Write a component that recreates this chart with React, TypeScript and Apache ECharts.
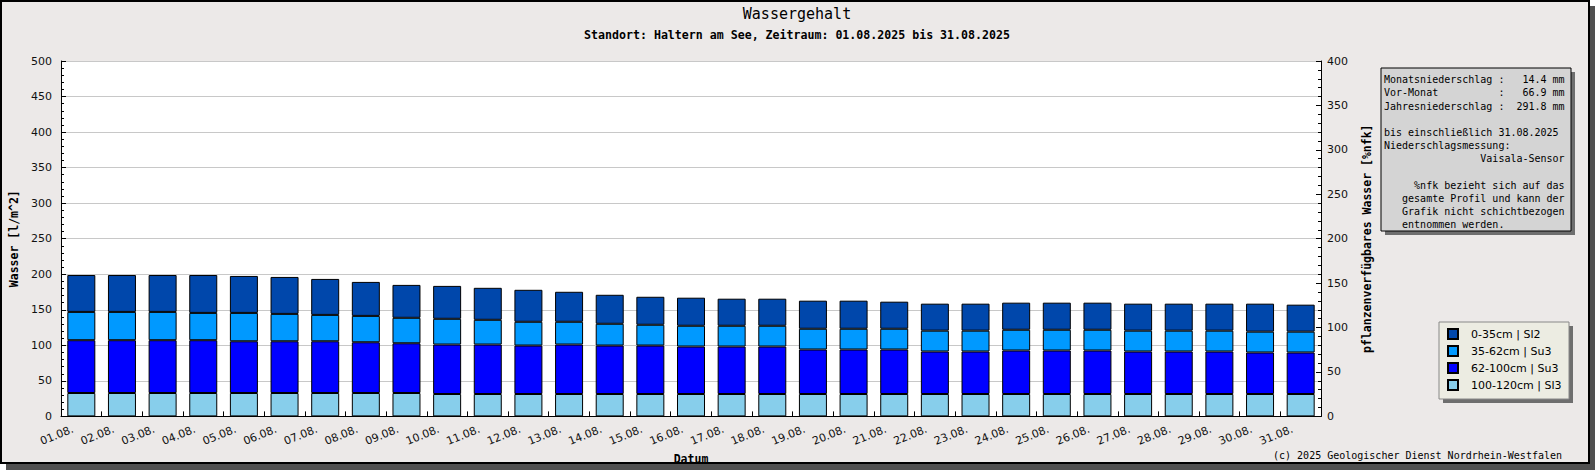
import React, { useEffect, useRef } from "react";
import * as echarts from "echarts";

const categories = [
  "01.08.", "02.08.", "03.08.", "04.08.", "05.08.", "06.08.", "07.08.", "08.08.",
  "09.08.", "10.08.", "11.08.", "12.08.", "13.08.", "14.08.", "15.08.", "16.08.",
  "17.08.", "18.08.", "19.08.", "20.08.", "21.08.", "22.08.", "23.08.", "24.08.",
  "25.08.", "26.08.", "27.08.", "28.08.", "29.08.", "30.08.", "31.08.",
];

// 0-35cm | Sl2 (top layer)
const layer0to35 = [
  51.9, 51.9, 51.9, 53.3, 52.0, 52.0, 50.6, 47.8, 46.3, 46.3, 45.0, 45.0, 42.2, 40.8, 39.4, 39.5,
  38.1, 38.1, 39.5, 39.5, 38.1, 38.0, 38.0, 38.1, 38.1, 38.1, 38.0, 38.0, 38.0, 39.4, 38.0,
];
// 35-62cm | Su3
const layer35to62 = [
  39.8, 39.8, 39.8, 38.4, 39.9, 38.5, 37.1, 37.1, 35.8, 36.2, 34.8, 33.4, 32.0, 30.6, 29.2, 29.2,
  29.2, 29.2, 29.2, 29.2, 29.2, 29.3, 29.3, 29.2, 29.2, 29.2, 29.3, 29.3, 29.3, 29.3, 29.3,
];
// 62-100cm | Su3
const layer62to100 = [
  74.3, 74.3, 74.3, 74.3, 72.8, 72.8, 72.8, 71.4, 70.0, 69.6, 69.6, 68.2, 69.6, 68.2, 68.2, 66.8,
  66.8, 66.8, 62.6, 62.6, 62.6, 59.8, 59.8, 61.2, 61.2, 61.2, 59.8, 59.8, 59.8, 58.4, 58.4,
];
// 100-120cm | Sl3 (bottom layer)
const layer100to120 = [
  32.9, 32.9, 32.9, 32.9, 32.9, 32.9, 32.9, 32.9, 32.9, 31.5, 31.5, 31.5, 31.5, 31.5, 31.5, 31.5,
  31.5, 31.5, 31.5, 31.5, 31.5, 31.5, 31.5, 31.5, 31.5, 31.5, 31.5, 31.5, 31.5, 31.5, 31.5,
];

const seriesNames = ["0-35cm | Sl2", "35-62cm | Su3", "62-100cm | Su3", "100-120cm | Sl3"];
const seriesColors = ["#0047ab", "#0099ff", "#0000ff", "#87ceeb"];

const titleText = "Wassergehalt";
const subtitleText = "Standort: Haltern am See, Zeitraum: 01.08.2025 bis 31.08.2025";
const leftAxisName = "Wasser [l/m^2]";
const rightAxisName = "pflanzenverfügbares Wasser [%nfk]";
const xAxisName = "Datum";
const copyrightText = "(c) 2025 Geologischer Dienst Nordrhein-Westfalen";
const infoLines = [
  "Monatsniederschlag :   14.4 mm",
  "Vor-Monat          :   66.9 mm",
  "Jahresniederschlag :  291.8 mm",
  "",
  "bis einschließlich 31.08.2025",
  "Niederschlagsmessung:",
  "                Vaisala-Sensor",
  "",
  "     %nfk bezieht sich auf das",
  "   gesamte Profil und kann der",
  "   Grafik nicht schichtbezogen",
  "   entnommen werden.",
];

const MONO = "'DejaVu Sans Mono', 'Liberation Mono', monospace";
const SANS = "'DejaVu Sans', 'Noto Sans', sans-serif";

export default function App() {
  const ref = useRef<HTMLDivElement>(null);

  useEffect(() => {
    if (!ref.current) return;
    const chart = echarts.init(ref.current, undefined, { renderer: "svg" });

    const layers = [layer0to35, layer35to62, layer62to100, layer100to120];
    // stack bottom-up: deepest layer first
    const series = [3, 2, 1, 0].map((i) => ({
      name: seriesNames[i],
      type: "bar",
      stack: "wasser",
      data: layers[i],
      barWidth: 28,
      itemStyle: { color: seriesColors[i], borderColor: "#000", borderWidth: 1 },
      emphasis: { disabled: true },
    }));

    chart.setOption({
      animation: false,
      backgroundColor: "transparent",
      title: [
        {
          text: titleText,
          left: 797,
          top: 6,
          padding: 0,
          textAlign: "center",
          textStyle: { fontFamily: MONO, fontSize: 15, fontWeight: "normal", color: "#000" },
        },
        {
          text: subtitleText,
          left: 797,
          top: 29,
          padding: 0,
          textAlign: "center",
          textStyle: { fontFamily: MONO, fontSize: 11.6, fontWeight: "bold", color: "#000" },
        },
      ],
      grid: {
        left: 61,
        top: 61,
        width: 1260,
        height: 359,
        show: true,
        backgroundColor: "#ffffff",
        borderWidth: 0,
      },
      legend: {
        orient: "vertical",
        left: 1447,
        top: 328,
        padding: 0,
        itemWidth: 10,
        itemHeight: 10,
        itemGap: 5,
        icon: "rect",
        data: seriesNames,
        selectedMode: false,
        textStyle: { fontFamily: SANS, fontSize: 11, color: "#000", padding: [0, 0, 0, 8] },
        z: 20,
      },
      xAxis: {
        type: "category",
        data: categories,
        boundaryGap: true,
        axisLine: { show: true, lineStyle: { color: "#000", width: 1 } },
        axisTick: { show: true, inside: true, length: 5, interval: 0, lineStyle: { color: "#000" } },
        axisLabel: {
          interval: 0,
          rotate: 22,
          fontSize: 11,
          fontFamily: SANS,
          color: "#111",
          margin: 9,
          padding: [0, 9, 0, 0],
        },
        name: xAxisName,
        nameLocation: "middle",
        nameGap: 31,
        nameTextStyle: { fontFamily: MONO, fontWeight: "bold", fontSize: 11.5, color: "#000" },
      },
      yAxis: [
        {
          type: "value",
          position: "left",
          min: 0,
          max: 500,
          interval: 50,
          axisLine: { show: true, lineStyle: { color: "#000" } },
          axisTick: { show: true, inside: true, length: 5, lineStyle: { color: "#000" } },
          minorTick: { show: true, splitNumber: 5, length: 3, lineStyle: { color: "#000" } },
          splitLine: { show: true, lineStyle: { color: "#c8c8c8", width: 1 } },
          axisLabel: { fontSize: 11, fontFamily: SANS, color: "#111", margin: 9 },
          name: leftAxisName,
          nameLocation: "middle",
          nameRotate: 90,
          nameGap: 41,
          nameTextStyle: { fontFamily: MONO, fontWeight: "bold", fontSize: 11.5, color: "#000" },
        },
        {
          type: "value",
          position: "right",
          min: 0,
          max: 400,
          interval: 50,
          axisLine: { show: true, lineStyle: { color: "#000" } },
          axisTick: { show: true, inside: true, length: 5, lineStyle: { color: "#000" } },
          minorTick: { show: true, splitNumber: 5, length: 3, lineStyle: { color: "#000" } },
          splitLine: { show: false },
          axisLabel: { fontSize: 11, fontFamily: SANS, color: "#111", margin: 6 },
          name: rightAxisName,
          nameLocation: "middle",
          nameRotate: 90,
          nameGap: 40,
          nameTextStyle: { fontFamily: MONO, fontWeight: "bold", fontSize: 11.5, color: "#000" },
        },
      ],
      graphic: [
        // info box
        { type: "rect", z: 10, shape: { x: 1385, y: 72, width: 190, height: 163 }, style: { fill: "#6e6e6e" } },
        {
          type: "rect",
          z: 11,
          shape: { x: 1381, y: 68, width: 190, height: 163 },
          style: { fill: "#d4d4d4", stroke: "#000", lineWidth: 1 },
        },
        {
          type: "text",
          z: 12,
          x: 1384,
          y: 73,
          style: {
            text: infoLines.join("\n"),
            fontFamily: MONO,
            fontSize: 10,
            lineHeight: 13.2,
            fill: "#000",
            textVerticalAlign: "top",
          },
        },
        // legend box
        { type: "rect", z: 10, shape: { x: 1443, y: 326, width: 130, height: 77 }, style: { fill: "#6e6e6e" } },
        {
          type: "rect",
          z: 11,
          shape: { x: 1439, y: 322, width: 130, height: 77 },
          style: { fill: "#ececE2", stroke: "#888", lineWidth: 1 },
        },
        // copyright
        {
          type: "text",
          z: 12,
          x: 1562,
          y: 455,
          style: {
            text: copyrightText,
            fontFamily: MONO,
            fontSize: 10,
            fill: "#000",
            textAlign: "right",
            textVerticalAlign: "middle",
          },
        },
      ],
      series,
    });

    return () => {
      chart.dispose();
    };
  }, []);

  return (
    <div style={{ position: "absolute", left: 0, top: 0, width: 1595, height: 470 }}>
      <div
        style={{
          position: "absolute",
          left: 0,
          top: 0,
          width: 1590,
          height: 464,
          boxSizing: "border-box",
          border: "2px solid #000",
          background: "#ece9e8",
          boxShadow: "6px 6px 0 #505050",
        }}
      />
      <div ref={ref} style={{ position: "absolute", left: 0, top: 0, width: 1595, height: 470 }} />
    </div>
  );
}
